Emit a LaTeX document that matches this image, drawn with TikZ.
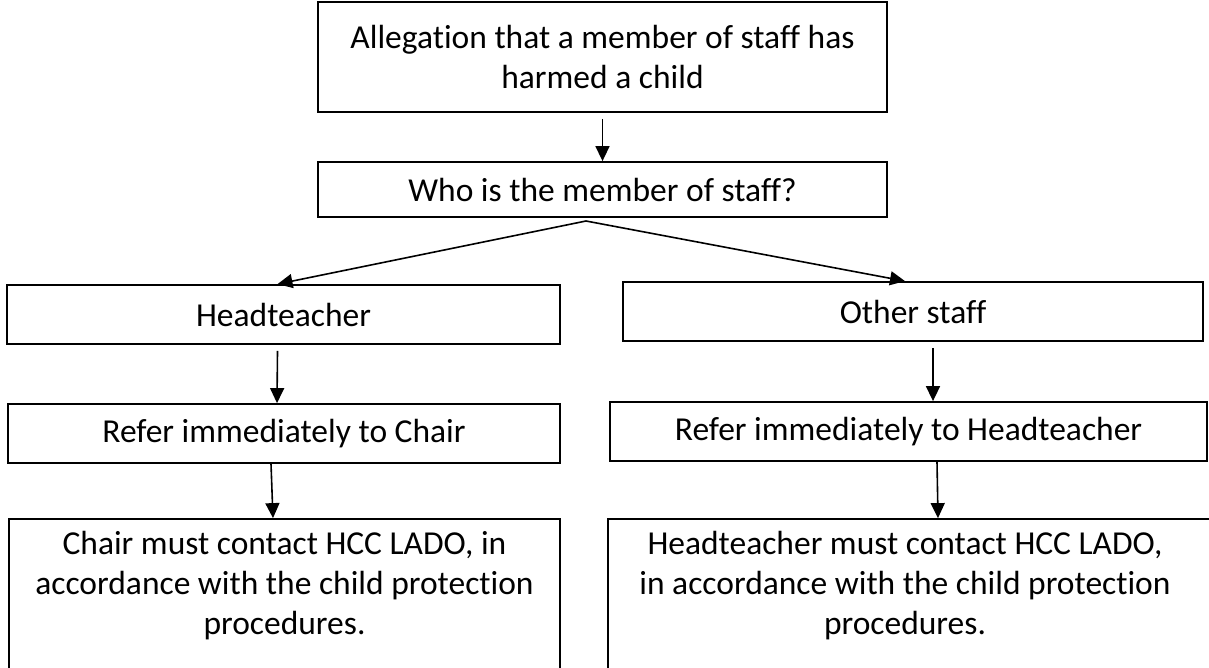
\documentclass[tikz,border=0pt]{standalone}
\usepackage{fontspec}
\setmainfont{Carlito}[Ligatures=CommonOff]
\usetikzlibrary{arrows.meta,calc}
\tikzset{
  box/.style={draw=black, line width=1.8pt, inner sep=0pt, align=center,
    font=\fontsize{33.5}{40}\selectfont},
  txt/.style={inner sep=0pt, align=center, font=\fontsize{33.5}{40}\selectfont},
  arr/.style={line width=1.6pt, -{Triangle[length=15pt,width=14pt]}}
}
\begin{document}
\begin{tikzpicture}[x=1pt,y=-1pt]
\useasboundingbox (0,0) rectangle (1209,667);
\clip (0,0) rectangle (1209,667);
\node[box, minimum width=569pt, minimum height=110pt] (b1) at (602.5,57)
  {Allegation that a member of staff has\\harmed a child};
\node[box, minimum width=569pt, minimum height=55pt] (b2) at (602.5,189.5)
  {Who is the member of staff?};
\node[box, minimum width=553pt, minimum height=59pt] (b3) at (283.5,314.5)
  {Headteacher};
\node[box, minimum width=580pt, minimum height=59pt] (b4) at (913,311.5)
  {Other staff};
\node[box, minimum width=552pt, minimum height=59pt] (b5) at (284,433.5)
  {Refer immediately to Chair};
\node[box, minimum width=597pt, minimum height=59pt] (b6) at (908.5,431.5)
  {Refer immediately to Headteacher};
\node[box, minimum width=551pt, minimum height=171pt] (b7) at (284.5,604.5) {};
\node[txt] (t7) at (284.5,586)
  {Chair must contact HCC LADO, in\\accordance with the child protection\\procedures.};
\node[box, minimum width=602pt, minimum height=171pt] (b8) at (909,604.5) {};
\node[txt] (t8) at (905,586)
  {Headteacher must contact HCC LADO,\\in accordance with the child protection\\procedures.};
\coordinate (sp) at (586,221);
\draw[arr, shorten <=6pt] (b1.south) -- (b2.north);
\draw[arr] (sp) -- ($(b3.north)+(-6,0)$);
\draw[arr] (sp) -- ($(b4.north)+(-8,0)$);
\draw[arr] ($(b3.south)+(-6,6)$) -- ($(b5.north)+(-7,0)$);
\draw[arr] ($(b4.south)+(20,6)$) -- ($(b6.north)+(24.5,0)$);
\draw[arr] ($(b5.south)+(-13,0)$) -- ($(b7.north)+(-11.5,0)$);
\draw[arr] ($(b6.south)+(28.5,0)$) -- ($(b8.north)+(29,0)$);
\end{tikzpicture}
\end{document}
